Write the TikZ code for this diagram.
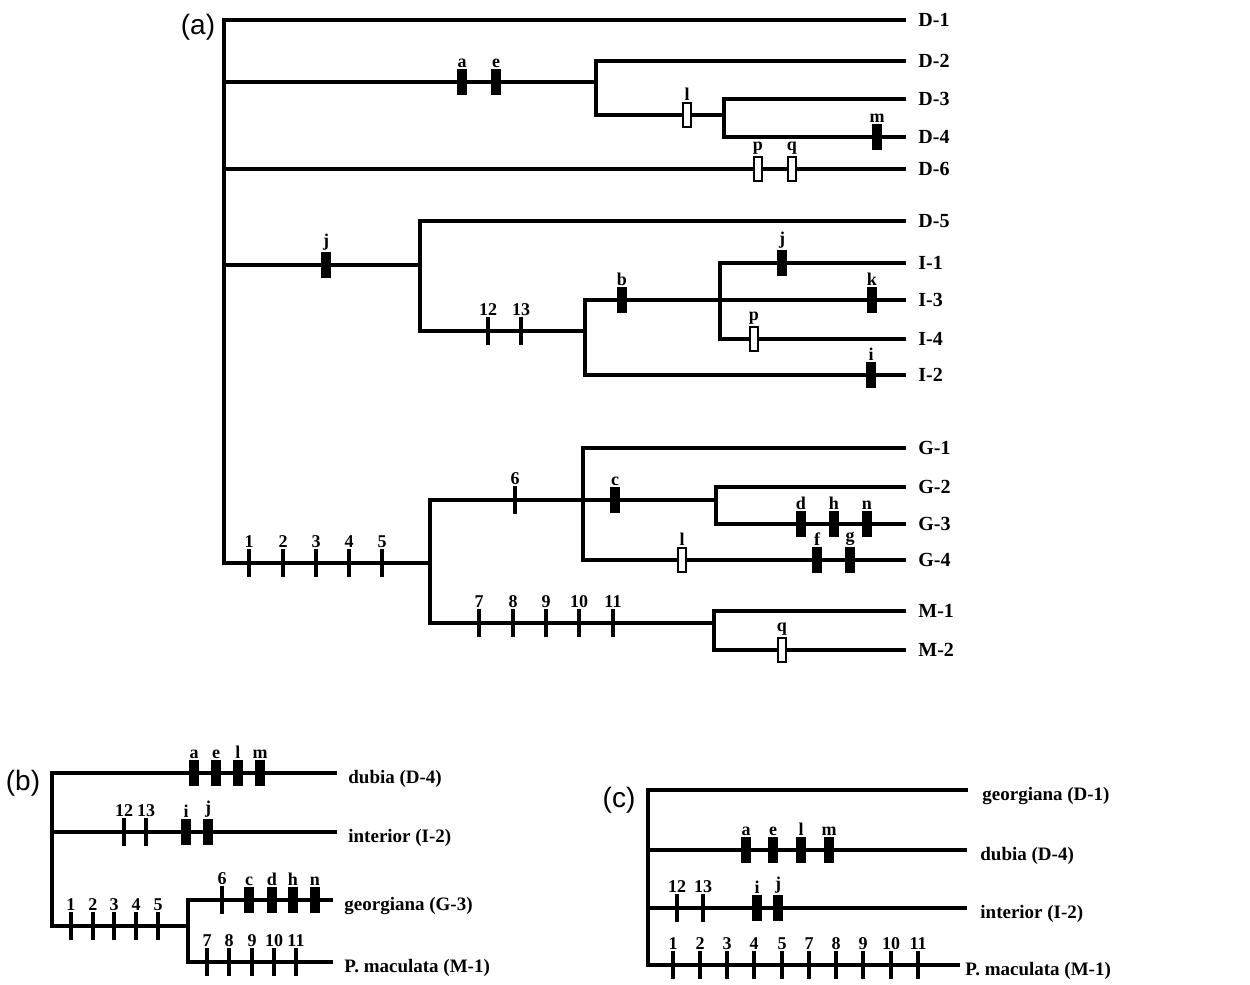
\documentclass[tikz,border=0pt]{standalone}
\usepackage{fontspec}
\setmainfont{Liberation Serif}
\newfontfamily\panelfont{Liberation Sans}
\usetikzlibrary{positioning}
\tikzset{
  branch/.style={line width=2pt, line join=miter},
  synbar/.style={fill=black, inner sep=0pt, minimum width=5pt, minimum height=13pt},
  homobar/.style={draw=black, fill=white, line width=1pt, inner sep=0pt, minimum width=4pt, minimum height=12pt},
  tickmark/.style={fill=black, inner sep=0pt, minimum width=2pt, minimum height=14pt},
  marklab/.style={font=\bfseries\fontsize{9}{10}\selectfont, inner sep=0.5pt},
  taxon/.style={font=\bfseries\fontsize{10}{12}\selectfont, inner sep=0pt},
  species/.style={font=\bfseries\fontsize{9.5}{11}\selectfont, inner sep=0pt, yshift=-3pt},
  panel/.style={font=\panelfont\fontsize{14}{16}\selectfont, inner sep=0pt}
}

\begin{document}
\begin{tikzpicture}[x=0.5pt, y=-0.5pt]
\useasboundingbox (0,0) rectangle (1250,985);

% (a) full tree
\node[panel] (pa) at (198,27) {(a)};
\foreach \n/\y/\t in {D1/20/D-1, D2/61/D-2, D3/99/D-3, D4/137/D-4, D6/169/D-6,
    D5/221/D-5, I1/263/I-1, I3/300/I-3, I4/339/I-4, I2/375/I-2,
    G1/448/G-1, G2/487/G-2, G3/524/G-3, G4/560/G-4, M1/611/M-1, M2/650/M-2}{
  \coordinate (\n) at (906,\y);
  \node[taxon, right=6pt of \n] (lab\n) {\t};
}
\coordinate (r0) at (224,20);
\coordinate (r1) at (224,563);
\coordinate (n2) at (596,82);
\coordinate (n3) at (724,115);
\coordinate (n5) at (420,265);
\coordinate (n6) at (585,331);
\coordinate (n7) at (720,300);
\coordinate (n8) at (430,563);
\coordinate (n9) at (583,500);
\coordinate (n10) at (716,500);
\coordinate (n11) at (714,623);

\draw[branch] (D1) -| (r1) -- (n8);
\draw[branch] (r0 |- n2) -- (n2);
\draw[branch] (D2) -| (n2) |- (n3);
\draw[branch] (D3) -| (n3) |- (D4);
\draw[branch] (r0 |- D6) -- (D6);
\draw[branch] (r0 |- n5) -- (n5);
\draw[branch] (D5) -| (n5) |- (n6);
\draw[branch] (I3) -| (n6) |- (I2);
\draw[branch] (I1) -| (n7) |- (I4);
\draw[branch] (n10) -| (n8) |- (n11);
\draw[branch] (G1) -| (n9) |- (G4);
\draw[branch] (G2) -| (n10) |- (G3);
\draw[branch] (M1) -| (n11) |- (M2);

\node[synbar, label={[marklab]above:a}] (ka) at (462,82) {};
\node[synbar, label={[marklab]above:e}] (ke) at (496,82) {};
\node[homobar, label={[marklab]above:l}] (kl) at (687,115) {};
\node[synbar, label={[marklab]above:m}] (km) at (877,137) {};
\node[homobar, label={[marklab]above:p}] (kp) at (758,169) {};
\node[homobar, label={[marklab]above:q}] (kq) at (792,169) {};
\node[synbar, label={[marklab]above:j}] (kj) at (326,265) {};
\node[synbar, label={[marklab]above:b}] (kb) at (622,300) {};
\node[synbar, label={[marklab]above:j}] (kj2) at (782,263) {};
\node[synbar, label={[marklab]above:k}] (kk) at (872,300) {};
\node[homobar, label={[marklab]above:p}] (kp2) at (754,339) {};
\node[synbar, label={[marklab]above:i}] (ki) at (871,375) {};
\foreach \x/\t in {488/12, 521/13}
  \node[tickmark, label={[marklab]above:\t}] (kt\t) at (\x,331) {};
\foreach \x/\t in {249/1, 283/2, 316/3, 349/4, 382/5}
  \node[tickmark, label={[marklab]above:\t}] (kt\t) at (\x,563) {};
\node[tickmark, label={[marklab]above:6}] (kt6) at (515,500) {};
\node[synbar, label={[marklab]above:c}] (kc) at (615,500) {};
\foreach \x/\t in {801/d, 834/h, 867/n}
  \node[synbar, label={[marklab]above:\t}] (k\t) at (\x,524) {};
\node[homobar, label={[marklab]above:l}] (kl2) at (682,560) {};
\foreach \x/\t in {817/f, 850/g}
  \node[synbar, label={[marklab]above:\t}] (k\t) at (\x,560) {};
\foreach \x/\t in {479/7, 513/8, 546/9, 579/10, 613/11}
  \node[tickmark, label={[marklab]above:\t}] (kt\t) at (\x,623) {};
\node[homobar, label={[marklab]above:q}] (kq2) at (782,650) {};

% (b)
\node[panel] (pb) at (23,783) {(b)};
\foreach \n/\x/\y/\t in {bD4/337/773/{dubia (D-4)}, bI2/337/832/{interior (I-2)},
    bG3/333/900/{georgiana (G-3)}, bM1/333/962/{P. maculata (M-1)}}{
  \coordinate (\n) at (\x,\y);
  \node[species, right=5.5pt of \n] (lab\n) {\t};
}
\coordinate (br) at (52,926);
\coordinate (bn) at (188,926);
\draw[branch] (bD4) -| (br) -- (bn);
\draw[branch] (br |- bI2) -- (bI2);
\draw[branch] (bG3) -| (bn) |- (bM1);

\foreach \x/\t in {194/a, 216/e, 238/l, 260/m}
  \node[synbar, label={[marklab]above:\t}] (bk\t) at (\x,773) {};
\foreach \x/\t in {124/12, 146/13}
  \node[tickmark, label={[marklab]above:\t}] (bk\t) at (\x,832) {};
\foreach \x/\t in {186/i, 208/j}
  \node[synbar, label={[marklab]above:\t}] (bk\t) at (\x,832) {};
\node[tickmark, label={[marklab]above:6}] (bk6) at (222,900) {};
\foreach \x/\t in {249/c, 272/d, 293/h, 315/n}
  \node[synbar, label={[marklab]above:\t}] (bk\t) at (\x,900) {};
\foreach \x/\t in {71/1, 93/2, 114/3, 136/4, 158/5}
  \node[tickmark, label={[marklab]above:\t}] (bk\t) at (\x,926) {};
\foreach \x/\t in {207/7, 229/8, 252/9, 274/10, 296/11}
  \node[tickmark, label={[marklab]above:\t}] (bk\t) at (\x,962) {};

% (c)
\node[panel] (pc) at (619,800) {(c)};
\foreach \n/\x/\y/\g/\t in {cD1/968/790/7pt/{georgiana (D-1)}, cD4/967/850/6.5pt/{dubia (D-4)},
    cI2/967/908/6.5pt/{interior (I-2)}, cM1/960/965/2.5pt/{P. maculata (M-1)}}{
  \coordinate (\n) at (\x,\y);
  \node[species, right=\g of \n] (lab\n) {\t};
}
\coordinate (cr) at (648,965);
\draw[branch] (cD1) -| (cr) -- (cM1);
\draw[branch] (cr |- cD4) -- (cD4);
\draw[branch] (cr |- cI2) -- (cI2);

\foreach \x/\t in {746/a, 773/e, 801/l, 829/m}
  \node[synbar, label={[marklab]above:\t}] (ck\t) at (\x,850) {};
\foreach \x/\t in {677/12, 703/13}
  \node[tickmark, label={[marklab]above:\t}] (ck\t) at (\x,908) {};
\foreach \x/\t in {757/i, 778/j}
  \node[synbar, label={[marklab]above:\t}] (ck\t) at (\x,908) {};
\foreach \x/\t in {673/1, 700/2, 727/3, 754/4, 782/5, 809/7, 836/8, 863/9, 891/10, 918/11}
  \node[tickmark, label={[marklab]above:\t}] (ck\t) at (\x,965) {};
\end{tikzpicture}
\end{document}
